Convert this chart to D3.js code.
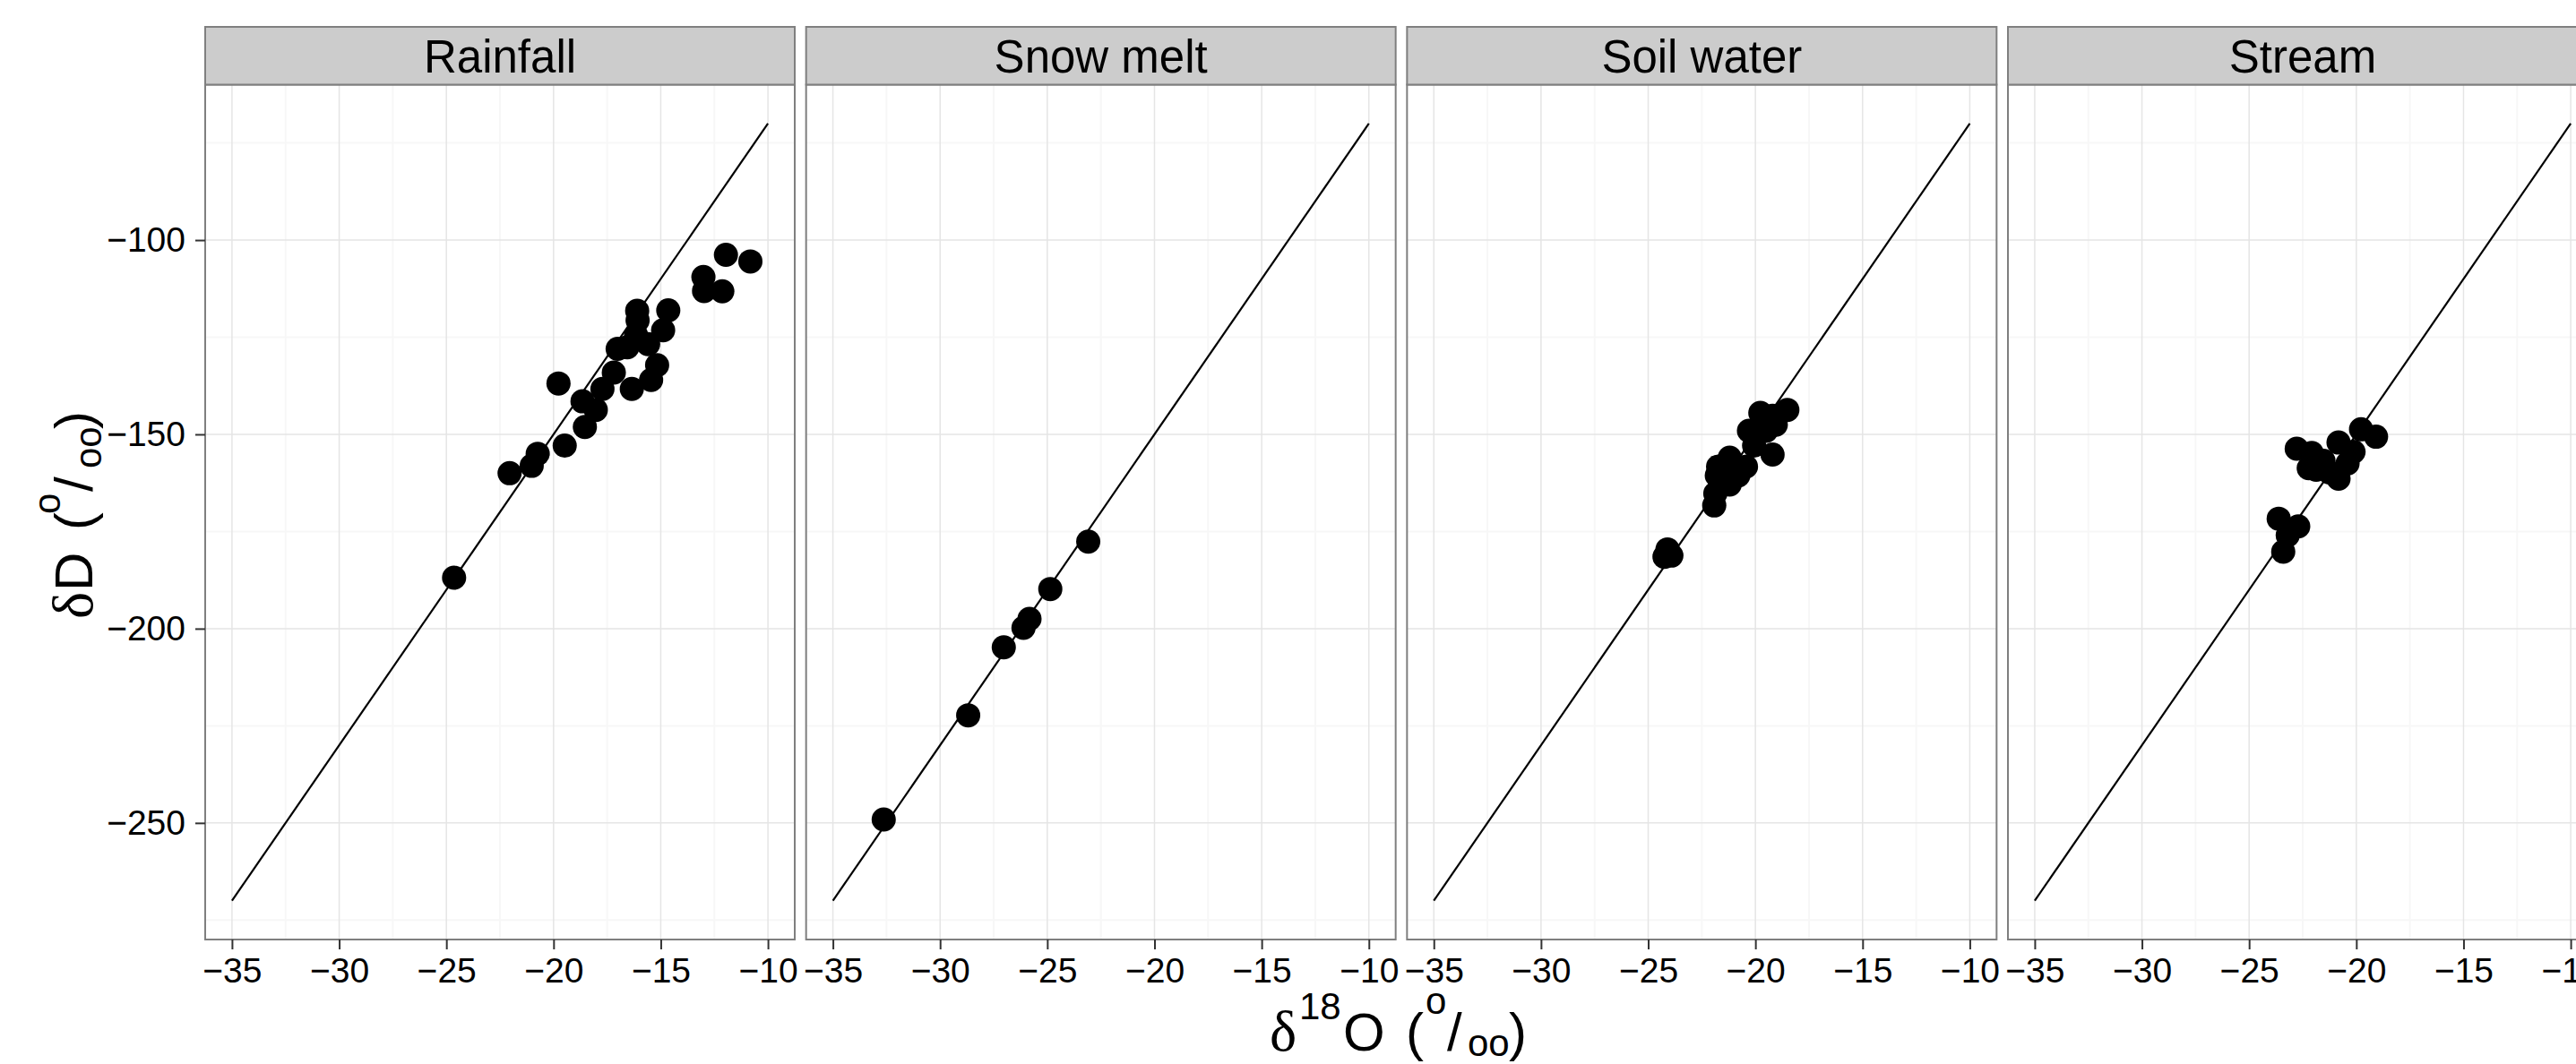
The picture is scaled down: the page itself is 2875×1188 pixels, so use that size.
<!DOCTYPE html>
<html>
<head>
<meta charset="utf-8">
<script src="https://cdn.jsdelivr.net/npm/d3@7"></script>
<style>
  body { margin: 0; background: #fff; }
  svg { display: block; font-family: "Liberation Sans", Arial, Helvetica, sans-serif; }
</style>
</head>
<body>
<div id="chart"></div>
<script>
// facet names
const panels = ['Rainfall', 'Snow melt', 'Soil water', 'Stream'];

// δ18O / δD
const rainfallO = [-11.96, -10.82, -13.01, -12.98, -12.13, -16.1, -16.08, -14.65, -14.89, -16.15, -15.59, -17.01, -16.56, -15.17, -15.45, -16.35, -17.19, -17.72, -18.65, -18.03, -19.77, -18.54, -19.48, -20.74, -21.02, -22.05, -24.64];
const rainfallD = [-103.8, -105.5, -109.5, -113.1, -113.2, -118.2, -120.7, -118.1, -123.2, -124.5, -126.8, -128, -127.6, -132.2, -136, -138.3, -134.1, -138.3, -141.5, -143.7, -136.9, -148.1, -152.9, -155, -158.1, -160, -186.9];

const snowO = [-23.09, -24.86, -25.83, -26.11, -27.03, -28.69, -32.63];
const snowD = [-177.6, -189.8, -197.5, -199.8, -204.8, -222.3, -249.1];

const soilO = [-24.24, -23.92, -24.1, -21.92, -21.87, -21.74, -21.8, -21.2, -21.2, -20.44, -20.3, -19.77, -19.2, -18.51, -19.2, -19.5, -20.06, -19.05, -20.8];
const soilD = [-181.5, -181.2, -179.6, -168.3, -165.2, -158.3, -160.6, -156, -162.9, -158.3, -149.1, -144.5, -155.2, -143.7, -145.2, -149.1, -152.9, -147.5, -160.6];

const streamO = [-22.78, -22.08, -21.87, -21.25, -20.83, -20.83, -20.13, -19.78, -19.08, -21.53, -20.41, -23.62, -22.71, -23.2, -23.41, -22.22];
const streamD = [-153.7, -154.8, -159.1, -159.8, -161.4, -152.1, -154.5, -148.7, -150.6, -156.8, -157.5, -171.7, -173.7, -176, -180.2, -158.7];

// meteoric water line end points
const lineO = [-35, -10];
const lineD = [-270, -70];

// axis breaks
const xTicks = [-35, -30, -25, -20, -15, -10];
const xMinor = [-32.5, -27.5, -22.5, -17.5, -12.5];
const yTicks = [-250, -200, -150, -100];
const yMinor = [-275, -225, -175, -125, -75];

const seriesO = [rainfallO, snowO, soilO, streamO];
const seriesD = [rainfallD, snowD, soilD, streamD];

const W = 2875, H = 1188;
const left0 = 229, pitch = 670.67, pw = 658;
const stripTop = 30, panelTop = 94.5, panelBottom = 1049;
const ph = panelBottom - panelTop;

const svg = d3.select('#chart')
  .append('svg')
  .attr('width', W)
  .attr('height', H);

const x = d3.scaleLinear().domain([-36.25, -8.75]).range([0, pw]);
const y = d3.scaleLinear().domain([-280, -60]).range([ph, 0]);

panels.forEach((name, i) => {
  const g = svg.append('g')
    .attr('transform', `translate(${left0 + i * pitch},${panelTop})`);

  // strip
  svg.append('rect')
    .attr('x', left0 + i * pitch)
    .attr('y', stripTop)
    .attr('width', pw)
    .attr('height', panelTop - stripTop)
    .attr('fill', '#cccccc')
    .attr('stroke', '#7f7f7f')
    .attr('stroke-width', 2);
  svg.append('text')
    .attr('x', left0 + i * pitch + pw / 2)
    .attr('y', 80.5)
    .attr('text-anchor', 'middle')
    .style('font-size', '51px')
    .text(name);

  // grid
  g.append('rect').attr('width', pw).attr('height', ph).attr('fill', '#fff');
  g.selectAll('.vmin').data(xMinor).enter().append('line')
    .attr('x1', (d) => x(d)).attr('x2', (d) => x(d))
    .attr('y1', 0).attr('y2', ph)
    .attr('stroke', '#f7f7f7').attr('stroke-width', 2);
  g.selectAll('.hmin').data(yMinor).enter().append('line')
    .attr('y1', (d) => y(d)).attr('y2', (d) => y(d))
    .attr('x1', 0).attr('x2', pw)
    .attr('stroke', '#f7f7f7').attr('stroke-width', 2);
  g.selectAll('.vmaj').data(xTicks).enter().append('line')
    .attr('x1', (d) => x(d)).attr('x2', (d) => x(d))
    .attr('y1', 0).attr('y2', ph)
    .attr('stroke', '#e5e5e5').attr('stroke-width', 1.5);
  g.selectAll('.hmaj').data(yTicks).enter().append('line')
    .attr('y1', (d) => y(d)).attr('y2', (d) => y(d))
    .attr('x1', 0).attr('x2', pw)
    .attr('stroke', '#e5e5e5').attr('stroke-width', 1.5);

  // meteoric water line
  g.append('path')
    .datum(d3.zip(lineO, lineD))
    .attr('d', d3.line().x((d) => x(d[0])).y((d) => y(d[1])))
    .attr('fill', 'none')
    .attr('stroke', '#000')
    .attr('stroke-width', 2.2);

  // points
  g.selectAll('circle')
    .data(d3.zip(seriesO[i], seriesD[i]))
    .enter()
    .append('circle')
    .attr('cx', (d) => x(d[0]))
    .attr('cy', (d) => y(d[1]))
    .attr('r', 13.5)
    .attr('fill', '#000');

  // border
  g.append('rect')
    .attr('width', pw).attr('height', ph)
    .attr('fill', 'none')
    .attr('stroke', '#7f7f7f')
    .attr('stroke-width', 2);

  // x axis
  const xa = g.append('g')
    .attr('transform', `translate(0,${ph})`)
    .call(d3.axisBottom(x).tickValues(xTicks).tickSize(11).tickPadding(9));
  xa.select('.domain').remove();
  xa.selectAll('line').attr('stroke', '#333').attr('stroke-width', 2);
  xa.selectAll('text').attr('fill', '#000').style('font-size', '39px').style('font-family', 'inherit');

  if (i === 0) {
    const ya = g.append('g')
      .call(d3.axisLeft(y).tickValues(yTicks).tickSize(11).tickPadding(11));
    ya.select('.domain').remove();
    ya.selectAll('line').attr('stroke', '#333').attr('stroke-width', 2);
    ya.selectAll('text').attr('fill', '#000').style('font-size', '39px').style('font-family', 'inherit');
  }
});

// plotmath-like axis titles: pieces placed along the baseline
function title(sel, parts) {
  parts.forEach((p) => {
    sel.append('text')
      .attr('x', p.at)
      .attr('y', p.dy || 0)
      .style('font-size', p.size + 'px')
      .style('font-family', p.serif ? '"Liberation Serif", "DejaVu Serif", serif' : null)
      .text(p.t);
  });
}

title(svg.append('g').attr('transform', 'translate(1418,1173)'), [
  { t: 'δ', at: -1, size: 64, serif: true },
  { t: '18', at: 32, dy: -35, size: 42 },
  { t: 'O', at: 81, size: 60 },
  { t: '(', at: 151, size: 60 },
  { t: 'o', at: 173, dy: -41, size: 42 },
  { t: '/', at: 197, size: 60 },
  { t: 'oo', at: 220, dy: 6, size: 42 },
  { t: ')', at: 266, size: 60 },
]);

title(svg.append('g').attr('transform', 'translate(103,690) rotate(-90)'), [
  { t: 'δ', at: -1, size: 64, serif: true },
  { t: 'D', at: 30, size: 60 },
  { t: '(', at: 98, size: 60 },
  { t: 'o', at: 116, dy: -36, size: 42 },
  { t: '/', at: 141, size: 60 },
  { t: 'oo', at: 167, dy: 10, size: 42 },
  { t: ')', at: 211, size: 60 },
]);
</script>
</body>
</html>
